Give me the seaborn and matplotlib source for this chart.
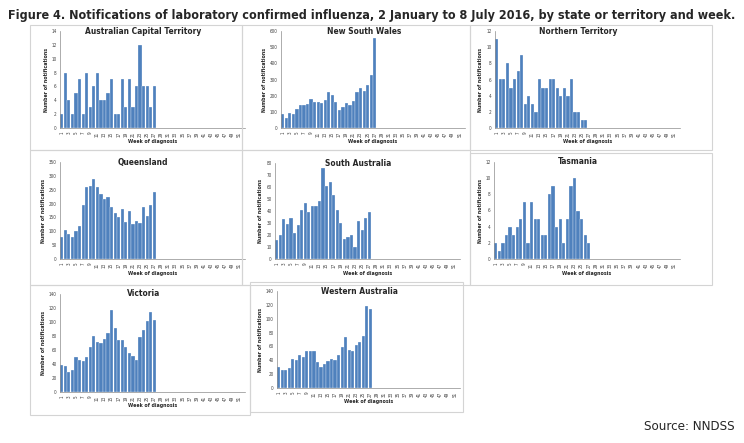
import numpy as np
import pandas as pd
import seaborn as sns
import matplotlib.pyplot as plt
from matplotlib.patches import Rectangle

# Weekly notifications (weeks 1-27, 2016)
weeks = list(range(1, 53))
act = [2, 8, 4, 2, 5, 7, 2, 8, 3, 6, 8, 4, 4, 5, 7, 2, 2, 7, 3, 7, 3, 6, 12, 6, 6, 3, 6]
nsw = [85, 60, 95, 85, 115, 145, 140, 148, 178, 163, 160, 155, 175, 225, 205, 160,
       110, 130, 155, 140, 170, 225, 250, 228, 265, 325, 555]
nt = [11, 6, 6, 8, 5, 6, 7, 9, 3, 4, 3, 2, 6, 5, 5, 6, 6, 5, 4, 5, 4, 6, 2, 2, 1, 1]
qld = [80, 105, 90, 78, 100, 120, 195, 260, 265, 290, 260, 235, 218, 222, 188, 165,
       150, 180, 132, 173, 125, 138, 130, 187, 155, 195, 240]
sa = [16, 20, 33, 29, 34, 22, 28, 41, 47, 39, 44, 44, 48, 76, 61, 64, 53, 41, 30, 17,
      18, 20, 10, 32, 24, 34, 39]
tas = [2, 1, 2, 3, 4, 3, 4, 5, 7, 2, 7, 5, 5, 3, 3, 8, 9, 4, 5, 2, 5, 9, 10, 6, 5, 3, 2]
vic = [38, 37, 29, 31, 50, 46, 44, 50, 65, 80, 72, 70, 76, 85, 117, 92, 75, 75, 65, 56,
       51, 46, 79, 89, 101, 115, 103]
wa = [30, 26, 26, 29, 42, 40, 47, 45, 54, 54, 53, 38, 31, 35, 39, 42, 41, 48, 59, 73,
      55, 53, 62, 66, 75, 119, 114]

states = ["Australian Capital Territory", "New South Wales", "Northern Territory",
          "Queensland", "South Australia", "Tasmania", "Victoria", "Western Australia"]
series = [act, nsw, nt, qld, sa, tas, vic, wa]
ymax = [14, 600, 12, 350, 80, 12, 140, 140]
ystep = [2, 100, 2, 50, 10, 2, 20, 20]

W, H = 744, 443
# plot areas in pixels: left, right, top, bottom
areas = [(60, 245, 31, 128), (281, 465, 31, 128), (495, 680, 31, 128),
         (60, 245, 162, 259), (275, 460, 163, 259), (494, 680, 162, 259),
         (60, 245, 294, 392), (277, 460, 291, 388)]
# chart boxes in pixels: left, right, top, bottom
boxes = [(30, 242, 25, 150), (242, 470, 25, 150), (470, 712, 25, 150),
         (30, 242, 150, 285), (242, 470, 150, 285), (470, 712, 153, 285),
         (30, 250, 285, 415), (250, 463, 282, 412)]

sns.set_style("white")
plt.rcParams['font.family'] = ['DejaVu Sans']
plt.rcParams['font.stretch'] = 'condensed'

fig = plt.figure(figsize=(W / 100, H / 100), dpi=100)

for l, r, t, b in boxes:
    fig.patches.append(Rectangle((l / W, 1 - b / H), (r - l) / W, (b - t) / H,
                                 transform=fig.transFigure, fill=False,
                                 edgecolor="#d4d4d4", linewidth=0.8))

for name, vals, ym, ys, (l, r, t, b) in zip(states, series, ymax, ystep, areas):
    ax = fig.add_axes([l / W, 1 - b / H, (r - l) / W, (b - t) / H])
    df = pd.DataFrame({"week": weeks[:len(vals)], "count": vals})
    sns.barplot(data=df, x="week", y="count", order=weeks, color="#4F81BD",
                saturation=1, width=0.9, edgecolor="white", linewidth=0.2, ax=ax)
    ax.set_ylim(0, ym)
    ax.set_yticks(np.arange(0, ym + 1, ys))
    ax.set_xlim(-0.5, len(weeks) - 0.5)
    ax.set_xticks(range(len(weeks)))
    ax.set_xticklabels([str(w) if w % 2 == 1 else "" for w in weeks], rotation=90)
    ax.tick_params(axis="both", labelsize=3.3, length=1.5, width=0.4, pad=1,
                   colors="#404040")
    for s in ["top", "right"]:
        ax.spines[s].set_visible(False)
    for s in ["left", "bottom"]:
        ax.spines[s].set_color("#8c8c8c")
        ax.spines[s].set_linewidth(0.5)
    ax.set_ylabel("Number of notifications", fontsize=3.8, fontweight="bold", labelpad=2)
    ax.set_xlabel("Week of diagnosis", fontsize=3.8, fontweight="bold", labelpad=2)
    ax.text(0.45, 1.0, name, transform=ax.transAxes, ha="center", va="center",
            fontsize=6, fontweight="bold")

fig.text(8 / W, 1 - 15 / H,
         "Figure 4. Notifications of laboratory confirmed influenza, 2 January to 8 July 2016, "
         "by state or territory and week.",
         ha="left", va="center", fontsize=9, fontweight="bold")
fig.text(735 / W, 1 - 427 / H, "Source: NNDSS", ha="right", va="center", fontsize=9.5)

fig.savefig("out.png", dpi=100)
